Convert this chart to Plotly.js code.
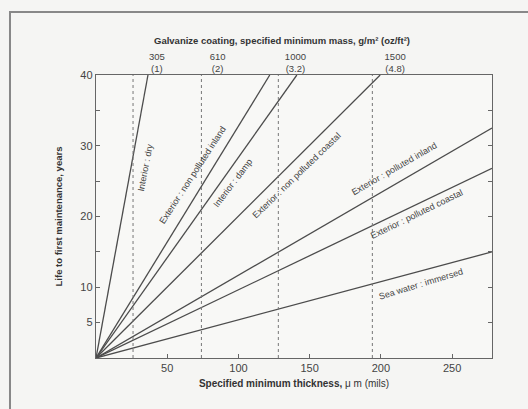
<!DOCTYPE html>
<html>
<head>
<meta charset="utf-8">
<script src="https://cdn.plot.ly/plotly-3.0.1.min.js"></script>
<style>html,body{margin:0;padding:0;background:#f5f5f3;}#chart{width:528px;height:409px;}</style>
</head>
<body>
<div id="chart"></div>
<script>
// Environment lines: each runs from the origin to its end point (thickness µm, life years)
var environments = ["Interior : dry", "Exterior : non polluted inland", "Interior : damp",
  "Exterior : non polluted coastal", "Exterior : polluted inland", "Exterior : polluted coastal",
  "Sea water : immersed"];
var endThickness = [36.5, 122, 141, 199.5, 278, 278, 278];
var endLife = [40, 40, 40, 40, 32.5, 26.8, 15.0];

// Galvanize mass reference (dashed verticals) and top tick labels
var dashedThickness = [26, 74, 128, 194];
var massTickPos = [42.7, 85.4, 140, 210];
var massTickText = ["305<br>(1)", "610<br>(2)", "1000<br>(3.2)", "1500<br>(4.8)"];

var xTicks = [50, 100, 150, 200, 250];
var yTicks = [5, 10, 15, 20, 25, 30, 35, 40];
var yTickText = ["5", "10", "", "20", "", "30", "", "40"];

var FONT = "Liberation Sans, Arial, sans-serif";
var traces = [];
for (var i = 0; i < environments.length; i++) {
  traces.push({x: [0, endThickness[i]], y: [0, endLife[i]], mode: "lines", name: environments[i],
    line: {color: "#4c4c4c", width: 1.3}, showlegend: false, hoverinfo: "name"});
}
for (var j = 0; j < dashedThickness.length; j++) {
  traces.push({x: [dashedThickness[j], dashedThickness[j]], y: [0, 40], mode: "lines",
    line: {color: "#777", width: 1, dash: "3px,3px"}, showlegend: false, hoverinfo: "skip"});
}
traces.push({x: [0], y: [0], xaxis: "x2", mode: "markers", marker: {opacity: 0}, showlegend: false, hoverinfo: "skip"});

// label placement (layout)
var labelPos = [[34.4, 26.9, -79], [68.0, 25.8, -57], [96.2, 24.7, -53], [141.1, 25.9, -44],
  [209.2, 26.7, -30], [225.3, 20.4, -26], [228.2, 10.5, -17]];
var annotations = [];
for (var k = 0; k < environments.length; k++) {
  annotations.push({x: labelPos[k][0], y: labelPos[k][1], xref: "x", yref: "y", text: environments[k],
    textangle: labelPos[k][2], showarrow: false, font: {family: FONT, size: 9, color: "#444"}});
}
annotations.push({x: 0.47, y: 1.148, xref: "paper", yref: "paper", showarrow: false,
  text: "<b>Galvanize coating, specified minimum mass, g/m² (oz/ft²)</b>",
  font: {family: FONT, size: 9.5, color: "#333"}});

var layout = {
  width: 528, height: 409,
  margin: {l: 96, r: 36, t: 75, b: 51},
  paper_bgcolor: "#f5f5f3", plot_bgcolor: "#f8f8f6",
  font: {family: FONT, color: "#333"},
  xaxis: {range: [0, 278], tickvals: xTicks, ticks: "inside", ticklen: 4, tickcolor: "#666",
    showline: true, mirror: true, linecolor: "#666", linewidth: 1.2, showgrid: false, zeroline: false,
    tickfont: {family: FONT, size: 11, color: "#444"},
    title: {text: "<b>Specified minimum thickness,</b> μ m (mils)", font: {family: FONT, size: 10, color: "#333"}, standoff: 6}},
  xaxis2: {range: [0, 278], overlaying: "x", side: "top", tickvals: massTickPos, ticktext: massTickText,
    ticks: "", showline: false, showgrid: false, zeroline: false,
    tickfont: {family: FONT, size: 9.5, color: "#444"}},
  yaxis: {range: [0, 40], tickvals: yTicks, ticktext: yTickText, ticks: "inside", ticklen: 4, tickcolor: "#666",
    showline: true, mirror: "ticks", linecolor: "#666", linewidth: 1.2, showgrid: false, zeroline: false,
    tickfont: {family: FONT, size: 11, color: "#444"},
    title: {text: "<b>Life to first maintenance, years</b>", font: {family: FONT, size: 9.5, color: "#333"}, standoff: 16}},
  shapes: [{type: "rect", xref: "paper", yref: "paper", x0: -0.2172, x1: 1.096, y0: -0.19, y1: 1.2226,
    line: {color: "#888", width: 2}}],
  annotations: annotations
};
Plotly.newPlot("chart", traces, layout, {displayModeBar: false, staticPlot: true});
</script>
</body>
</html>
